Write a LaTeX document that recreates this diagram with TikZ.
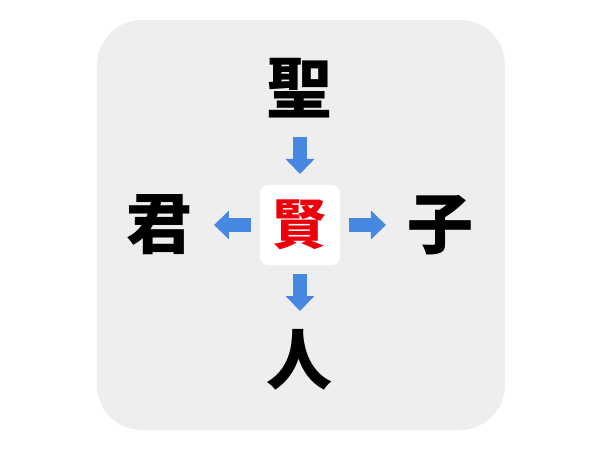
\documentclass[tikz,border=0pt]{standalone}
\usepackage{fontspec}
\newfontfamily\cjk{Noto Sans CJK JP}
\usetikzlibrary{arrows.meta}
\definecolor{panel}{RGB}{238,238,238}
\definecolor{arrowblue}{RGB}{70,136,226}
\definecolor{kenred}{RGB}{235,0,12}
\tikzstyle{kanji}=[font=\cjk\bfseries\fontsize{66}{66}\selectfont, inner sep=0pt]
\tikzstyle{hub}=[fill=white, rounded corners=8pt, minimum size=80pt, inner sep=0pt, text=kenred, font=\cjk\bfseries\fontsize{54}{54}\selectfont]
\tikzstyle{blockarrow}=[draw=arrowblue, line width=14pt, -{Triangle[width=28pt,length=15pt]}, shorten <=49pt]

\begin{document}
\begin{tikzpicture}[x=1pt, y=1pt]
  \useasboundingbox (-300,-225) rectangle (300,225);
  \fill[panel, rounded corners=45pt] (-203,-205) rectangle (205,205);
  \node[hub] (ken) at (0,0) {賢};
  \node[kanji] (sei) at (0,137) {聖};
  \node[kanji] (kun) at (-140,0) {君};
  \node[kanji] (ko) at (140,0) {子};
  \node[kanji] (jin) at (0,-135) {人};
  \draw[blockarrow, shorten >=51pt] (sei.center) -- (ken.center);
  \draw[blockarrow, shorten >=54pt] (ken.center) -- (kun.center);
  \draw[blockarrow, shorten >=54pt] (ken.center) -- (ko.center);
  \draw[blockarrow, shorten >=49pt] (ken.center) -- (jin.center);
\end{tikzpicture}
\end{document}
